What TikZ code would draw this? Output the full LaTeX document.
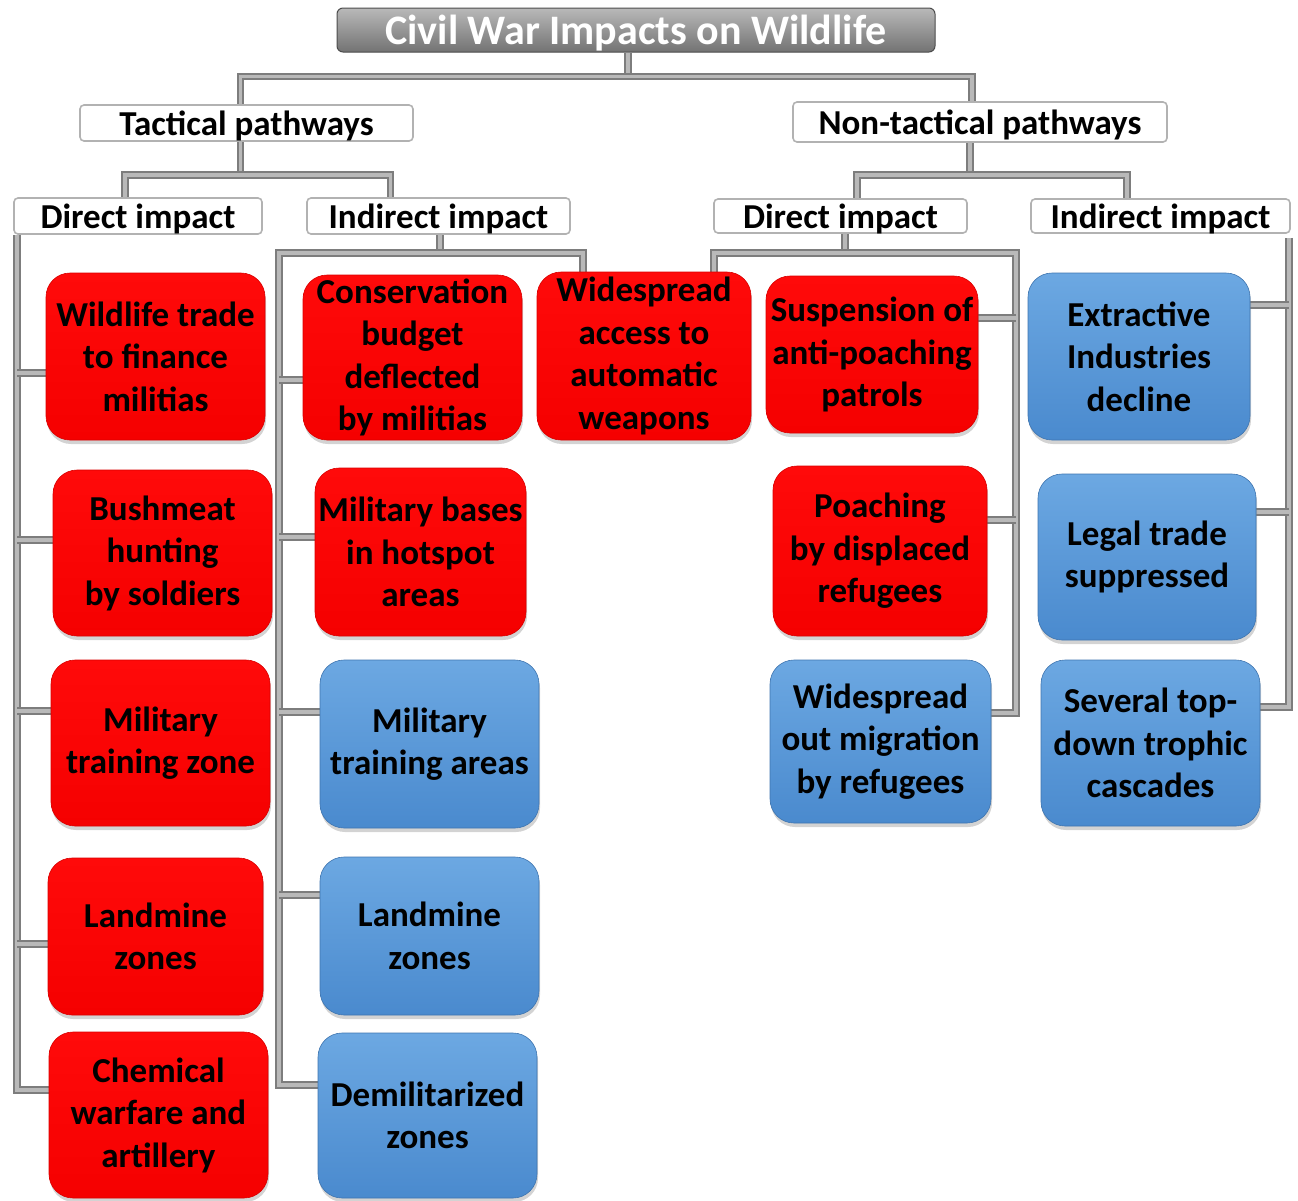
\documentclass[tikz,border=0pt]{standalone}
\usepackage{fontspec}
\setmainfont{Carlito}
\usetikzlibrary{shadows,calc}
\pgfdeclarelayer{bg}
\pgfsetlayers{bg,main}
\definecolor{redtop}{RGB}{255,10,10}
\definecolor{redbot}{RGB}{245,0,0}
\definecolor{bluetop}{RGB}{108,168,226}
\definecolor{bluebot}{RGB}{74,138,206}
\definecolor{pipeedge}{RGB}{125,125,125}
\definecolor{pipecore}{RGB}{185,185,185}
\tikzset{
  box/.style={rounded corners=24pt, inner sep=0pt, align=center,
    font=\fontsize{35}{42.5}\selectfont\bfseries, text=black,
    drop shadow={opacity=0.35, shadow xshift=1pt, shadow yshift=-4pt}},
  redbox/.style={box, top color=redtop, bottom color=redbot, draw=red!85!black, line width=0.6pt},
  bluebox/.style={box, top color=bluetop, bottom color=bluebot, draw=bluebot!85!black, line width=0.6pt},
  head/.style={rounded corners=4pt, draw=gray!60, line width=1.6pt, fill=white, inner sep=0pt,
    text depth=0pt, font=\fontsize{35}{38}\selectfont\bfseries},
  titlebox/.style={rounded corners=6pt, draw=gray!60!black, line width=1pt,
    top color=gray!55, bottom color=gray!90!black, inner sep=0pt, text=white, text depth=0pt,
    font=\fontsize{42}{44}\selectfont\bfseries},
  pipe/.style={draw=pipeedge, double=pipecore, double distance=3.5pt, line width=2pt}
}
\begin{document}
\begin{tikzpicture}[x=1pt,y=-1pt]
\useasboundingbox (0,0) rectangle (1298,1200);
% title and headers
\node[titlebox, minimum width=598pt, minimum height=44pt] (T) at (636,30) {Civil War Impacts on Wildlife};
\node[head, minimum width=333pt, minimum height=36pt] (TP) at (246.5,123) {Tactical pathways};
\node[head, minimum width=374pt, minimum height=40pt] (NT) at (980,122) {Non-tactical pathways};
\node[head, minimum width=248pt, minimum height=36pt] (DL) at (138,216) {Direct impact};
\node[head, minimum width=263pt, minimum height=36pt] (IL) at (438.5,216) {Indirect impact};
\node[head, minimum width=253pt, minimum height=34pt] (DR) at (840.5,216) {Direct impact};
\node[head, minimum width=259pt, minimum height=34pt] (IR) at (1160.5,216) {Indirect impact};
% tactical direct
\node[redbox, minimum width=219pt, minimum height=167pt] (L1) at (155.5,356.5) {Wildlife trade\\to finance\\militias};
\node[redbox, minimum width=219pt, minimum height=166pt] (L2) at (162.5,553) {Bushmeat\\hunting\\by soldiers};
\node[redbox, minimum width=219pt, minimum height=166pt] (L3) at (160.5,743) {Military\\training zone};
\node[redbox, minimum width=215pt, minimum height=157pt] (L4) at (155.5,936.5) {Landmine\\zones};
\node[redbox, minimum width=219pt, minimum height=166pt] (L5) at (158.5,1115) {Chemical\\warfare and\\artillery};
% tactical indirect
\node[redbox, minimum width=219pt, minimum height=165pt] (I1) at (412.5,357.5) {Conservation\\budget\\deflected\\by militias};
\node[redbox, minimum width=214pt, minimum height=168pt] (I2) at (644,356) {Widespread\\access to\\automatic\\weapons};
\node[redbox, minimum width=211pt, minimum height=168pt] (I3) at (420.5,552) {Military bases\\in hotspot\\areas};
\node[bluebox, minimum width=219pt, minimum height=168pt] (I4) at (429.5,744) {Military\\training areas};
\node[bluebox, minimum width=219pt, minimum height=158pt] (I5) at (429.5,936) {Landmine\\zones};
\node[bluebox, minimum width=219pt, minimum height=165pt] (I6) at (427.5,1115.5) {Demilitarized\\zones};
% non-tactical direct
\node[redbox, minimum width=212pt, minimum height=157pt] (R1) at (872,354.5) {Suspension of\\anti-poaching\\patrols};
\node[redbox, minimum width=214pt, minimum height=170pt] (R2) at (880,551) {Poaching\\by displaced\\refugees};
\node[bluebox, minimum width=221pt, minimum height=163pt] (R3) at (880.5,741.5) {Widespread\\out migration\\by refugees};
% non-tactical indirect
\node[bluebox, minimum width=222pt, minimum height=167pt] (N1) at (1139,356.5) {Extractive\\Industries\\decline};
\node[bluebox, minimum width=218pt, minimum height=166pt] (N2) at (1147,557) {Legal trade\\suppressed};
\node[bluebox, minimum width=219pt, minimum height=166pt] (N3) at (1150.5,743) {Several top-\\down trophic\\cascades};
% stub points
\coordinate (s-L1) at ($(L1.west)+(0,16.5)$);
\coordinate (s-L2) at ($(L2.west)+(0,-13)$);
\coordinate (s-L3) at ($(L3.west)+(0,-32)$);
\coordinate (s-L4) at ($(L4.west)+(0,7.5)$);
\coordinate (s-L5) at ($(L5.west)+(0,-25)$);
\coordinate (s-I1) at ($(I1.west)+(0,22.5)$);
\coordinate (s-I3) at ($(I3.west)+(0,-15)$);
\coordinate (s-I4) at ($(I4.west)+(0,-32)$);
\coordinate (s-I5) at ($(I5.west)+(0,-41)$);
\coordinate (s-I6) at ($(I6.west)+(0,-30.5)$);
\coordinate (s-R1) at ($(R1.east)+(0,-36.5)$);
\coordinate (s-R2) at ($(R2.east)+(0,-31)$);
\coordinate (s-R3) at ($(R3.east)+(0,-28.5)$);
\coordinate (s-N1) at ($(N1.east)+(0,-51.5)$);
\coordinate (s-N2) at ($(N2.east)+(0,-45)$);
\coordinate (s-N3) at ($(N3.east)+(0,-36)$);
% junctions
\coordinate (Tj) at ($(T.south)+(-8,24)$);
\coordinate (TPj) at ($(TP.south)+(-6,33)$);
\coordinate (NTj) at ($(NT.south)+(-10,32)$);
\coordinate (DLe) at ($(DL.south west)+(4,0)$);
\coordinate (ILj) at ($(IL.south)+(1.5,18)$);
\coordinate (ILl) at ($(IL.south west)+(-27,18)$);
\coordinate (DRj) at ($(DR.south)+(4.5,19)$);
\coordinate (DRr) at ($(DR.south east)+(48,19)$);
\coordinate (IRt) at ($(IR.south east)+(-2,4)$);
\begin{pgfonlayer}{bg}
\draw[pipe] ($(T.south)+(-8,0)$) -- (Tj);
\draw[pipe] ($(TP.north)+(-6,0)$) |- (Tj) -| ($(NT.north)+(-8,0)$);
\draw[pipe] ($(TP.south)+(-6,0)$) -- (TPj);
\draw[pipe] ($(DL.north)+(-13,0)$) |- (TPj) -| ($(IL.north)+(-48,0)$);
\draw[pipe] ($(NT.south)+(-10,0)$) -- (NTj);
\draw[pipe] ($(DR.north)+(16.5,0)$) |- (NTj) -| ($(IR.north)+(-33.5,0)$);
% left direct trunk
\draw[pipe] (DLe) |- (s-L5);
\foreach \n in {L1,L2,L3,L4} \draw[pipe] (s-\n) -- (DLe |- s-\n);
% left indirect trunk
\draw[pipe] (IL.south -| ILj) -- (ILj);
\draw[pipe] ($(I2.north)+(-61,0)$) |- (ILl) |- (s-I6);
\foreach \n in {I1,I3,I4,I5} \draw[pipe] (s-\n) -- (ILl |- s-\n);
% right direct trunk
\draw[pipe] (DR.south -| DRj) -- (DRj);
\draw[pipe] ($(I2.north)+(70,0)$) |- (DRr) |- (s-R3);
\foreach \n in {R1,R2} \draw[pipe] (s-\n) -- (DRr |- s-\n);
% right indirect trunk
\draw[pipe] (IRt) |- (s-N3);
\foreach \n in {N1,N2} \draw[pipe] (s-\n) -- (IRt |- s-\n);
\end{pgfonlayer}
\end{tikzpicture}
\end{document}
